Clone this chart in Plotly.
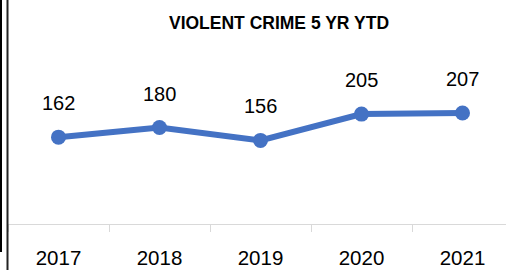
import plotly.graph_objects as go

years = ["2017", "2018", "2019", "2020", "2021"]
values = [162, 180, 156, 205, 207]
title_text = "VIOLENT CRIME 5 YR YTD"

W, H = 506, 270
left_px, right_px = 8, 506
top_px, bottom_px = 90, 224
ymax = 250

fig = go.Figure()
fig.add_trace(go.Scatter(
    x=years, y=values, mode="lines+markers",
    line=dict(color="#4472C4", width=6),
    marker=dict(color="#4472C4", size=15),
    hoverinfo="skip", showlegend=False,
))
for i, v in enumerate(values):
    fig.add_annotation(x=i, y=v, xref="x", yref="y", text=str(v), showarrow=False,
                       yshift=34, font=dict(family="Liberation Sans, Arial", size=20, color="#000000"))

plot_h = bottom_px - top_px
plot_w = right_px - left_px
def px_to_paper_x(px):
    return (px - left_px) / plot_w
def px_to_paper_y(py):
    return (bottom_px - py) / plot_h

shapes = [
    dict(type="line", xref="paper", yref="paper",
         x0=px_to_paper_x(1), x1=px_to_paper_x(1), y0=px_to_paper_y(0), y1=px_to_paper_y(252),
         line=dict(color="#000000", width=2)),
    dict(type="line", xref="paper", yref="paper",
         x0=px_to_paper_x(7.5), x1=px_to_paper_x(7.5), y0=px_to_paper_y(0), y1=px_to_paper_y(270),
         line=dict(color="#222222", width=2)),
]

fig.update_layout(
    width=W, height=H,
    margin=dict(l=left_px, r=W - right_px, t=top_px, b=H - bottom_px, pad=0),
    paper_bgcolor="white", plot_bgcolor="white",
    title=dict(text="<b>" + title_text + "</b>", x=279 / W, xanchor="center",
               y=1 - 23 / H, yanchor="middle", yref="container",
               font=dict(family="Liberation Sans, Arial", size=17.5, color="#000000")),
    xaxis=dict(type="category", range=[-0.5, -0.5 + plot_w / 101.0],
               showgrid=False, showline=True, linecolor="#d9d9d9", linewidth=1,
               ticks="outside", tickson="boundaries", ticklen=7, tickcolor="#d9d9d9",
               tickwidth=1, ticklabelstandoff=15,
               tickfont=dict(family="Liberation Sans, Arial", size=20.5, color="#000000"),
               fixedrange=True),
    yaxis=dict(range=[0, ymax], visible=False, showgrid=False, zeroline=False, fixedrange=True),
    shapes=shapes,
)

fig.write_html("out.html", config={"displayModeBar": False},
               post_script="document.body.style.margin='0';document.body.style.overflow='hidden';")
